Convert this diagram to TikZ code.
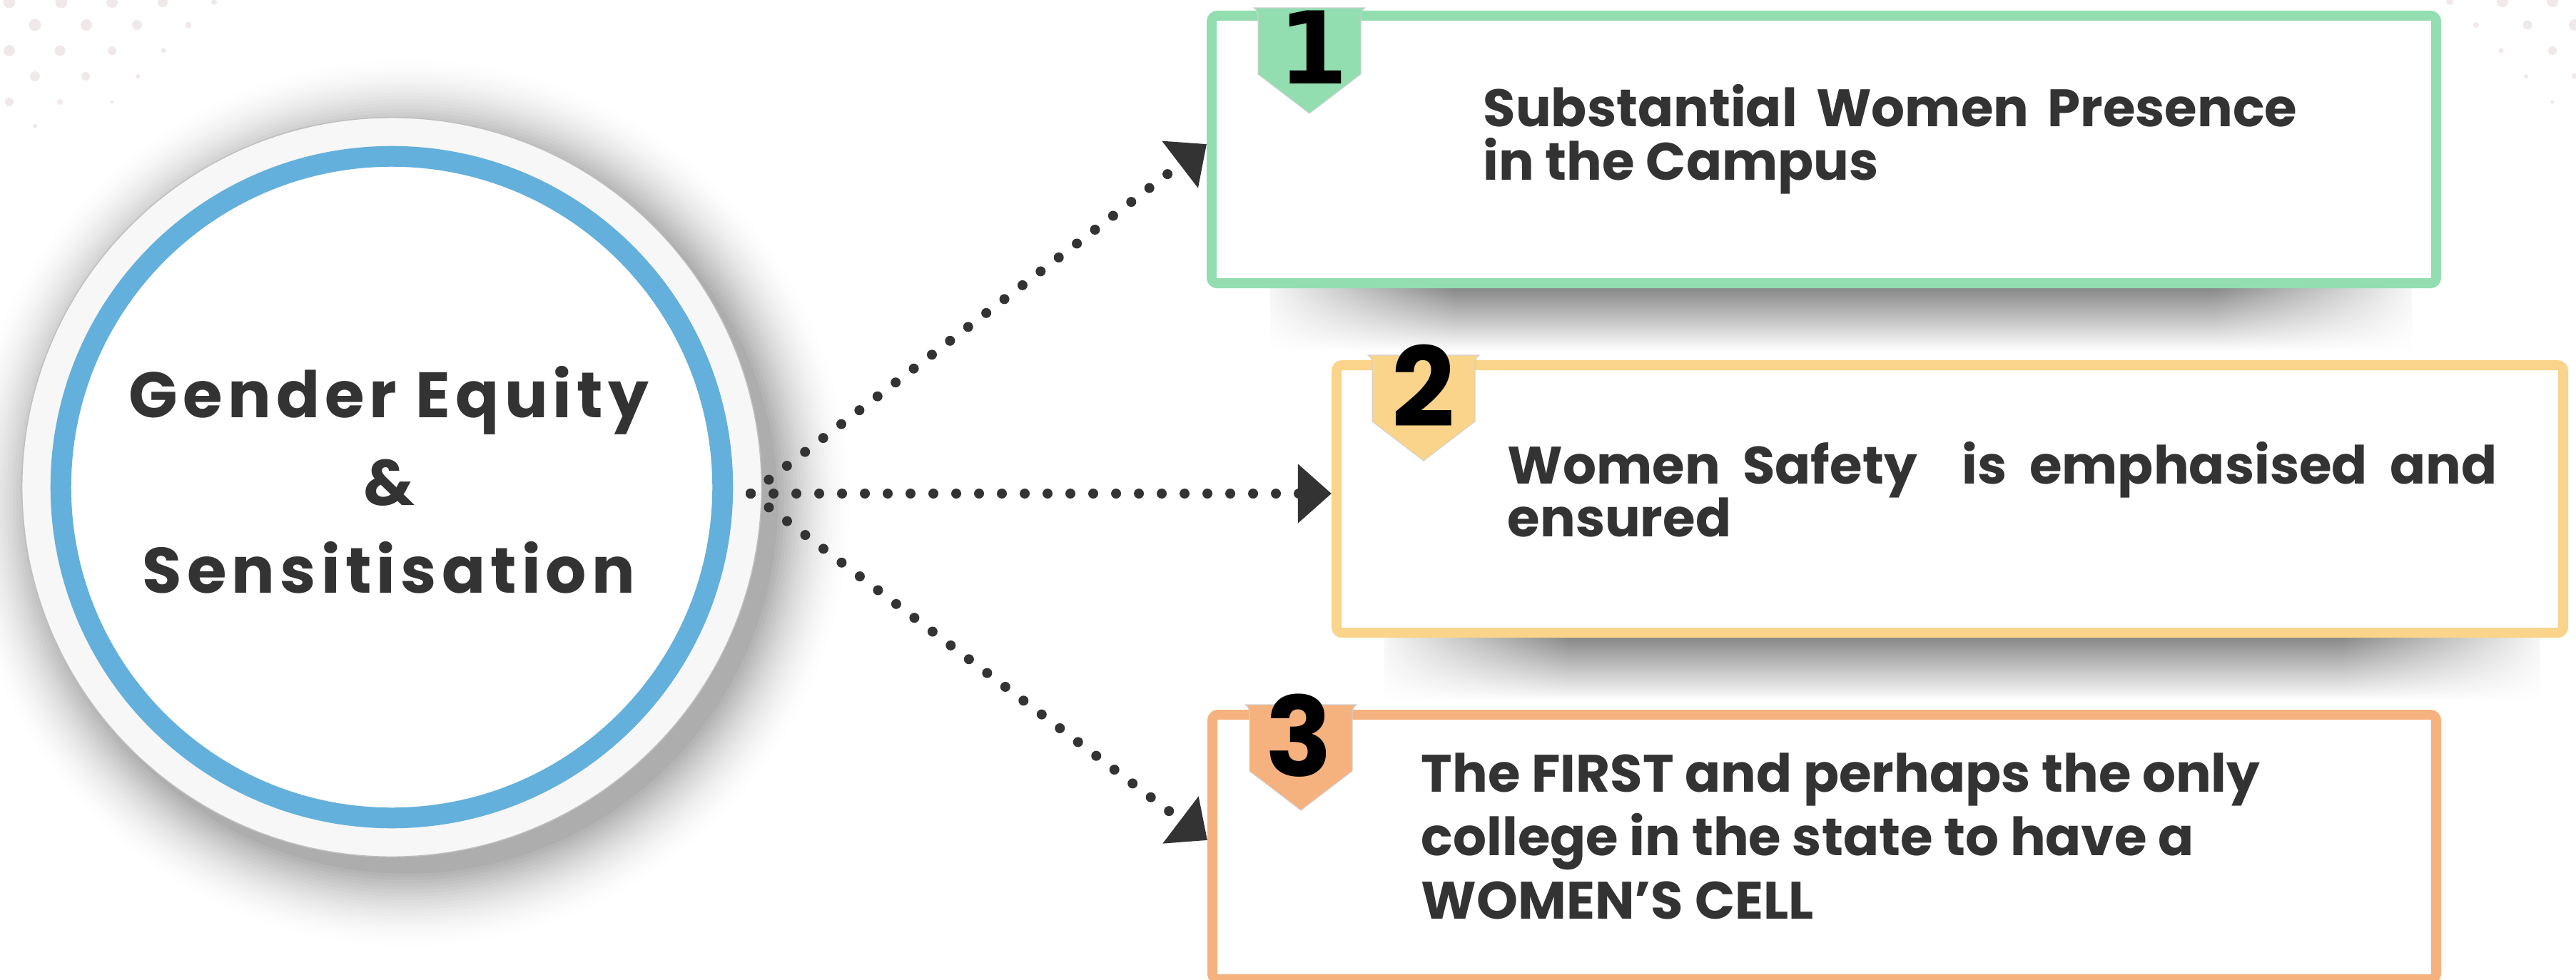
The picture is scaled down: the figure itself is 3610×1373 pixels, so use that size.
\documentclass[tikz,border=0pt]{standalone}
\usepackage{fontspec}
\setmainfont{Poppins}
\newfontfamily\circfont{Poppins}[LetterSpace=8]
\newfontfamily\onefont{DejaVu Sans}
\usetikzlibrary{arrows.meta,fadings}
\definecolor{ink}{HTML}{333333}
\definecolor{cgreen}{HTML}{92DEB0}
\definecolor{cyellow}{HTML}{F9D48A}
\definecolor{corange}{HTML}{F6B27E}
\definecolor{cblue}{HTML}{64B0DC}
\definecolor{dotc}{HTML}{F1E9E9}
\tikzfading[name=fadeR, left color=transparent!0, right color=transparent!100]
\tikzfading[name=fadeL, left color=transparent!100, right color=transparent!0]
\tikzset{
  card/.style={rectangle, draw=#1, line width=3.98pt, rounded corners=2.3pt, fill=white, inner sep=0, anchor=north west},
  btext/.style={font=\bfseries\fontsize{21}{25}\selectfont, text=ink, inner sep=0, anchor=base west},
  ctext/.style={font=\circfont\bfseries\fontsize{25.6}{30}\selectfont, text=ink, inner sep=0, anchor=base},
  numtext/.style={text=black, inner sep=0, anchor=base},
  flow/.style={draw=ink, line width=3.98pt, line cap=round, dash pattern=on 0pt off 9.1pt, -{Triangle[length=13.4pt, width=22.8pt]}},
  badgeedge/.style={draw=black!18, line width=0.3pt},
  boxshadow/.style={top color=black!55, bottom color=white}
}
\newcommand\drawbadge[3]{% center x, top y, colour
  \filldraw[fill=#3, badgeedge] ({#1-78},{#2-3}) -- ({#1+78},{#2-3})
    .. controls ({#1+73},{#2}) and ({#1+72},{#2+4}) .. ({#1+72},{#2+12})
    -- ({#1+72},{#2+90}) -- ({#1},{#2+145}) -- ({#1-72},{#2+90}) -- ({#1-72},{#2+12})
    .. controls ({#1-72},{#2+4}) and ({#1-73},{#2}) .. ({#1-78},{#2-3}) -- cycle;
}
\begin{document}
\begin{tikzpicture}[x=0.01cm, y=-0.01cm]
\useasboundingbox (0,0) rectangle (3610,1373);
\fill[white] (0,0) rectangle (3610,1373);

% background dots, top left
\foreach \x/\y/\r in {13/3/8.5, 86/3/8.5, 157/3/8, 228/3/7, 300/3/4,
  49/35/8.5, 121/35/8, 192/35/7, 264/35/4.5,
  13/71/8, 84/71/7.5, 157/71/6, 229/71/3.5,
  49/107/7, 120/107/6, 193/107/3,
  13/143/6, 84/143/4, 157/143/2.5,
  49/177/3}
  \fill[dotc] (\x,\y) circle[radius=\r*0.01cm];
% background dots, top right
\foreach \x/\y/\r in {3433/2/5, 3507/2/8, 3577/2/8,
  3470/35/4, 3542/35/6.5, 3608/35/8,
  3505/71/3.5, 3577/71/6,
  3540/107/3, 3608/107/4,
  3577/143/2.5}
  \fill[dotc] (\x,\y) circle[radius=\r*0.01cm];

% soft halo round the hub
\foreach \i in {0,...,24} {
  \pgfmathsetmacro\g{32*(\i/24)^1.8}
  \pgfmathsetmacro\rr{6.3-0.046*\i}
  \fill[black!\g] (570,705) circle[radius=\rr cm];
}
% card shadows
\shade[boxshadow] (1780,388) rectangle (3380,492);
\fill[white, path fading=fadeR] (1760,385) rectangle (2040,496);
\fill[white, path fading=fadeL] (3100,385) rectangle (3400,496);
\shade[boxshadow] (1940,878) rectangle (3560,982);
\fill[white, path fading=fadeR] (1920,875) rectangle (2200,986);
\fill[white, path fading=fadeL] (3280,875) rectangle (3580,986);

% hub circle
\node[circle, draw=black!25, line width=0.43pt, fill=black!3, minimum size=10.36cm, inner sep=0] (hub) at (549,683) {};
\fill[white] (hub.center) circle[radius=4.49cm];
\draw[cblue, line width=0.29cm] (hub.center) circle[radius=4.635cm];
\node[ctext] (h1) at (545,585) {Gender Equity};
\node[ctext] (h2) at (545,708) {\&};
\node[ctext] (h3) at (545,831) {Sensitisation};

% cards
\node[card=cgreen, minimum width=17.15cm, minimum height=3.75cm] (b1) at (1691,15) {};
\node[card=cyellow, minimum width=17.18cm, minimum height=3.75cm] (b2) at (1866,505) {};
\node[card=corange, minimum width=17.14cm, minimum height=3.71cm] (b3) at (1692,995) {};

% badges
\drawbadge{1835}{14}{cgreen}
\drawbadge{1995}{501}{cyellow}
\drawbadge{1823}{991}{corange}
\node[numtext, font=\onefont\bfseries\fontsize{40}{45}\selectfont] (n1) at (1840,118) {1};
\node[numtext, font=\bfseries\fontsize{44}{48}\selectfont] (n2) at (1995,598) {2};
\node[numtext, font=\bfseries\fontsize{44}{48}\selectfont] (n3) at (1820,1088) {3};

% card texts
\node[btext] (l11) at (2078,177) {\makebox[11.4cm][s]{Substantial Women Presence}};
\node[btext] (l12) at (2078,252) {in the Campus};
\node[btext] (l21) at (2112,678) {\makebox[13.86cm][s]{Women Safety\ \ is emphasised and}};
\node[btext] (l22) at (2112,752) {ensured};
\node[btext] (l31) at (1991,1110) {The FIRST and perhaps the only};
\node[btext] (l32) at (1991,1199) {college in the state to have a};
\node[btext] (l33) at (1991,1288) {WOMEN’S CELL};

% connectors
\coordinate (src) at (1052,692);
\coordinate (t1) at (b1.west |- 0,202);
\coordinate (t2) at (b2.west |- 0,692);
\coordinate (t3) at (b3.west |- 0,1178);
\draw[flow] (src) -- (t1);
\draw[flow] (src) -- (t2);
\draw[flow] (src) -- (t3);
\end{tikzpicture}
\end{document}
